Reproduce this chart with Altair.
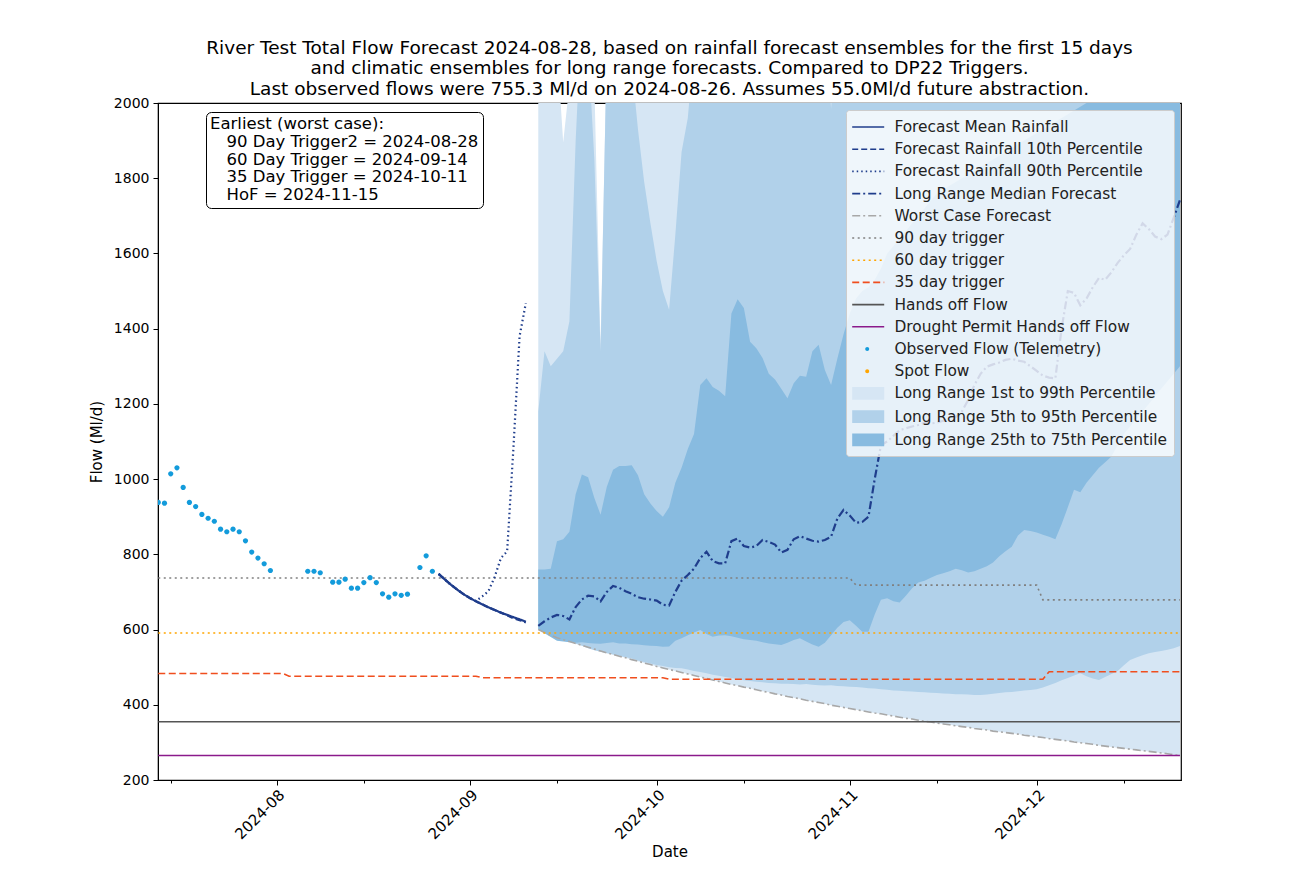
import altair as alt
import pandas as pd

# ---------------- text ----------------
TITLE_LINES = [
    "River Test Total Flow Forecast 2024-08-28, based on rainfall forecast ensembles for the first 15 days",
    "and climatic ensembles for long range forecasts. Compared to DP22 Triggers.",
    "Last observed flows were 755.3 Ml/d on 2024-08-26. Assumes 55.0Ml/d future abstraction.",
]
NOTE_TITLE = "Earliest (worst case):"
NOTES = ["90 Day Trigger2 = 2024-08-28", "60 Day Trigger = 2024-09-14",
         "35 Day Trigger = 2024-10-11", "HoF = 2024-11-15"]

SERIES = [
    "Forecast Mean Rainfall", "Forecast Rainfall 10th Percentile", "Forecast Rainfall 90th Percentile",
    "Long Range Median Forecast", "Worst Case Forecast", "90 day trigger", "60 day trigger",
    "35 day trigger", "Hands off Flow", "Drought Permit Hands off Flow",
    "Observed Flow (Telemetry)", "Spot Flow",
    "Long Range 1st to 99th Percentile", "Long Range 5th to 95th Percentile",
    "Long Range 25th to 75th Percentile",
]
T = "transparent"
STROKES = ["#1f3d8c", "#1f3d8c", "#1f3d8c", "#1f3d8c", "#a8a8a8", "#808080", "#ffa500",
           "#f04e1e", "#555555", "#8b1a8b", T, T, T, T, T]
FILLS = [T] * 10 + ["#139bdb", "#ffa500", "#d6e6f4", "#b1d1ea", "#88bbe0"]
DASHES = [[1, 0], [6, 3], [1.5, 3], [8, 3, 2, 3], [8, 3, 2, 3], [2, 3.5], [2, 3.5],
          [7, 3.5], [1, 0], [1, 0], [1, 0], [1, 0], [1, 0], [1, 0], [1, 0]]
LINE_SYM = "M-1.08,0H2.12"
DOT_SYM = "M0.22,0A0.2,0.2,0,1,1,0.62,0A0.2,0.2,0,1,1,0.22,0Z"
RECT_SYM = "M-1.08,-0.64H2.12V0.64H-1.08Z"
SHAPES = [LINE_SYM] * 10 + [DOT_SYM] * 2 + [RECT_SYM] * 3

# ---------------- observed flow ----------------
OBS_DATES = ["2024-07-13", "2024-07-14", "2024-07-15", "2024-07-16", "2024-07-17", "2024-07-18",
             "2024-07-19", "2024-07-20", "2024-07-21", "2024-07-22", "2024-07-23", "2024-07-24",
             "2024-07-25", "2024-07-26", "2024-07-27", "2024-07-28", "2024-07-29", "2024-07-30",
             "2024-07-31", "2024-08-06", "2024-08-07", "2024-08-08", "2024-08-10", "2024-08-11",
             "2024-08-12", "2024-08-13", "2024-08-14", "2024-08-15", "2024-08-16", "2024-08-17",
             "2024-08-18", "2024-08-19", "2024-08-20", "2024-08-21", "2024-08-22", "2024-08-24",
             "2024-08-25", "2024-08-26"]
OBS_VALUES = [938, 936, 1014, 1030, 978, 938, 927, 906, 896, 888, 867, 860, 867, 860, 836, 806,
              790, 775, 757, 755, 755, 751, 726, 726, 734, 710, 710, 725, 738, 725, 695, 686,
              695, 691, 694, 765, 796, 755]

# ---------------- 15 day rainfall forecast (2024-08-27 .. 2024-09-10) ----------------
FC_START, FC_DAYS = "2024-08-27", 15
FC_MEAN = [748, 733, 719, 706, 694, 684, 675, 667, 659, 652, 645, 639, 633, 627, 621]
FC_P10 = [748, 733, 719, 706, 694, 684, 675, 667, 659, 652, 645, 638, 630, 625, 619]
FC_P90 = [748, 733, 719, 706, 694, 684, 676, 688, 702, 740, 790, 808, 1080, 1380, 1468]

# ---------------- long range (2024-09-12 .. 2024-12-24) ----------------
LR_START, LR_DAYS = "2024-09-12", 104
LR_MEDIAN = [610, 622, 632, 639, 636, 627, 660, 680, 690, 688,
             675, 700, 716, 711, 702, 695, 686, 682, 680, 677,
             666, 664, 700, 730, 745, 762, 790, 807, 782, 776,
             776, 835, 842, 822, 818, 822, 838, 833, 826, 805,
             812, 840, 848, 842, 836, 834, 838, 847, 895, 918,
             903, 884, 886, 900, 1000, 1090, 1100, 1115, 1130, 1135,
             1140, 1144, 1150, 1148, 1150, 1155, 1157, 1165, 1180, 1210,
             1250, 1280, 1299, 1305, 1310, 1317, 1320, 1315, 1312, 1300,
             1288, 1275, 1270, 1268, 1400, 1500, 1495, 1462, 1480, 1510,
             1535, 1530, 1550, 1575, 1595, 1612, 1650, 1680, 1665, 1645,
             1638, 1650, 1695, 1742]
WORST = [600, 592, 585, 578, 573, 568, 563, 558, 553, 548,
         543, 538, 534, 529, 525, 520, 516, 511, 507, 502,
         498, 494, 490, 486, 482, 478, 474, 470, 466, 462,
         458, 454, 451, 447, 444, 440, 436, 433, 429, 426,
         422, 419, 416, 412, 409, 406, 403, 399, 396, 393,
         390, 387, 384, 381, 378, 376, 373, 370, 367, 364,
         362, 359, 356, 354, 351, 349, 347, 344, 342, 340,
         337, 335, 333, 330, 328, 326, 324, 322, 319, 317,
         315, 313, 310, 308, 306, 304, 301, 299, 297, 295,
         292, 290, 288, 286, 284, 282, 280, 278, 276, 274,
         272, 270, 267, 265]
P01 = WORST
P05 = [600, 592, 585, 580, 575, 568, 562, 557, 550, 545,
       541, 537, 534, 530, 527, 523, 518, 514, 510, 506,
       503, 500, 498, 497, 494, 490, 487, 484, 480, 477,
       474, 471, 468, 465, 463, 461, 460, 458, 457, 456,
       456, 455, 454, 455, 453, 452, 451, 452, 450, 449,
       448, 447, 446, 444, 443, 441, 440, 438, 437, 436,
       435, 434, 433, 432, 431, 430, 429, 428, 428, 427,
       426, 426, 427, 429, 431, 433, 434, 436, 438, 439,
       441, 446, 452, 458, 465, 471, 478, 484, 476, 470,
       466, 474, 482, 490, 505, 519, 526, 532, 537, 540,
       543, 546, 550, 556]
P25 = [600, 590, 580, 570, 568, 566, 565, 566, 564, 563,
       562, 564, 566, 563, 563, 561, 560, 558, 557, 556,
       554, 555, 570, 577, 585, 592, 599, 588, 581, 584,
       585, 582, 578, 574, 572, 570, 566, 563, 561, 559,
       565, 572, 577, 568, 560, 554, 565, 585, 605, 620,
       625, 610, 594, 594, 640, 679, 683, 675, 672, 690,
       710, 725, 730, 738, 745, 750, 755, 762, 758, 752,
       755, 762, 768, 778, 795, 808, 820, 850, 865, 862,
       858, 852, 847, 840, 880, 925, 972, 965, 990, 1010,
       1030, 1045, 1060, 1090, 1120, 1140, 1160, 1180, 1200, 1220,
       1240, 1260, 1280, 1300]
P75 = [760, 760, 762, 835, 840, 860, 960, 1012, 1005, 950,
       905, 980, 1025, 1035, 1035, 1037, 1010, 960, 935, 915,
       900, 925, 990, 1030, 1080, 1120, 1250, 1268, 1245, 1235,
       1220, 1440, 1478, 1455, 1365, 1348, 1322, 1280, 1265, 1240,
       1215, 1255, 1275, 1272, 1340, 1357, 1290, 1250, 1320, 1385,
       1440, 1480, 1500, 1510, 1530, 1560, 1600, 1620, 1640, 1660,
       1680, 1700, 1720, 1740, 1760, 1770, 1780, 1790, 1800, 1810,
       1820, 1830, 1840, 1850, 1860, 1870, 1880, 1890, 1900, 1910,
       1920, 1930, 1940, 1950, 1960, 1970, 1980, 1990, 2000, 2010,
       2020, 2030, 2040, 2050, 2060, 2070, 2080, 2090, 2100, 2100,
       2100, 2100, 2100, 2100]
P95 = [1180, 1340, 1300, 1320, 1340, 1420, 1900, 2250, 2150, 1850,
       1340, 2150, 2250, 2250, 2250, 2100, 1930, 1790, 1680, 1580,
       1500, 1450, 1650, 1870, 1960, 2150, 2250, 2250, 2250, 2250,
       2250, 2250, 2250, 2250, 2250, 2250, 2250, 2250, 2250, 2250,
       2250, 2250, 2250, 2250, 2250, 2250, 2250, 1985, 2250, 2250,
       2250, 2250, 2250, 2250, 2250, 2250, 2250, 2250, 2250, 2250,
       2250, 2250, 2250, 2250, 2250, 2250, 2250, 2250, 2250, 2250,
       2250, 2250, 2250, 2250, 2250, 2250, 2250, 2250, 2250, 2250,
       2250, 2250, 2250, 2250, 2250, 2250, 2250, 2250, 2250, 2250,
       2250, 2250, 2250, 2250, 2250, 2250, 2250, 2250, 2250, 2250,
       2250, 2250, 2250, 2250]
P99 = [2300, 2300, 2300, 2150, 1895, 2050, 2300, 2300, 2300, 2050,
       1357, 2150, 2300, 2300, 2300, 2300, 2300, 2300, 2300, 2300,
       2300, 2300, 2300, 2300, 2300, 2300, 2300, 2300, 2300, 2300,
       2300, 2300, 2300, 2300, 2300, 2300, 2300, 2300, 2300, 2300,
       2300, 2300, 2300, 2300, 2300, 2300, 2300, 2300, 2300, 2300,
       2300, 2300, 2300, 2300, 2300, 2300, 2300, 2300, 2300, 2300,
       2300, 2300, 2300, 2300, 2300, 2300, 2300, 2300, 2300, 2300,
       2300, 2300, 2300, 2300, 2300, 2300, 2300, 2300, 2300, 2300,
       2300, 2300, 2300, 2300, 2300, 2300, 2300, 2300, 2300, 2300,
       2300, 2300, 2300, 2300, 2300, 2300, 2300, 2300, 2300, 2300,
       2300, 2300, 2300, 2300]

# ---------------- triggers / flow constraints ----------------
T90_DATES = ["2024-07-13", "2024-11-01", "2024-11-02", "2024-12-01", "2024-12-02", "2024-12-24"]
T90_VALUES = [737, 737, 718, 718, 679, 679]
T60_DATES = ["2024-07-13", "2024-12-24"]
T60_VALUES = [591, 591]
T35_DATES = ["2024-07-13", "2024-08-02", "2024-08-03", "2024-09-02", "2024-09-03",
             "2024-10-02", "2024-10-03", "2024-12-02", "2024-12-03", "2024-12-24"]
T35_VALUES = [483, 483, 476, 476, 472, 472, 468, 468, 488, 488]
HOF_DATES = ["2024-07-13", "2024-12-24"]
HOF_VALUES = [355, 355]
DP_DATES = ["2024-07-13", "2024-12-24"]
DP_VALUES = [265, 265]


def iso(dates):
    return [pd.Timestamp(d).strftime("%Y-%m-%dT%H:%M:%S") for d in dates]


fc_dates = iso(pd.date_range(FC_START, periods=FC_DAYS, freq="D"))
lr_dates = iso(pd.date_range(LR_START, periods=LR_DAYS, freq="D"))


def line_rows(name, dates, values):
    return pd.DataFrame({"series": name, "date": dates, "value": values})


fc_lines = pd.concat([
    line_rows(SERIES[0], fc_dates, FC_MEAN),
    line_rows(SERIES[1], fc_dates, FC_P10),
    line_rows(SERIES[2], fc_dates, FC_P90),
    line_rows(SERIES[3], lr_dates, LR_MEDIAN),
])
other_lines = pd.concat([
    line_rows(SERIES[4], lr_dates, WORST),
    line_rows(SERIES[5], iso(T90_DATES), T90_VALUES),
    line_rows(SERIES[6], iso(T60_DATES), T60_VALUES),
    line_rows(SERIES[7], iso(T35_DATES), T35_VALUES),
    line_rows(SERIES[8], iso(HOF_DATES), HOF_VALUES),
    line_rows(SERIES[9], iso(DP_DATES), DP_VALUES),
])
obs = pd.DataFrame({"series": SERIES[10], "date": iso(OBS_DATES), "value": OBS_VALUES})
bands = [
    pd.DataFrame({"series": SERIES[12], "date": lr_dates, "lo": P01, "hi": P99}),
    pd.DataFrame({"series": SERIES[13], "date": lr_dates, "lo": P05, "hi": P95}),
    pd.DataFrame({"series": SERIES[14], "date": lr_dates, "lo": P25, "hi": P75}),
]
notes_df = pd.DataFrame({"note": NOTES})

# ---------------- scales / axes / legends ----------------
FONT = "DejaVu Sans"
x_scale = alt.Scale(domain=[alt.DateTime(year=2024, month=7, date=12, hours=23),
                            alt.DateTime(year=2024, month=12, date=24, hours=4)], nice=False)
y_scale = alt.Scale(domain=[200, 2000], nice=False, zero=False)

tick_dates = []
for m in [7, 8, 9, 10, 11, 12]:
    if m != 7:
        tick_dates.append(alt.DateTime(year=2024, month=m, date=1))
    tick_dates.append(alt.DateTime(year=2024, month=m, date=15))

x_axis = alt.Axis(
    title="Date", values=tick_dates, grid=False,
    labelExpr="date(datum.value) == 1 ? timeFormat(datum.value, '%Y-%m') : ''",
    tickSize={"condition": {"test": "date(datum.value) == 1", "value": 5}, "value": 3},
    labelAngle=-45, labelAlign="right", labelBaseline="top", labelFontSize=15,
    labelOverlap=False, labelFlush=False, labelPadding=2, titleFontSize=15,
    titleFontWeight="normal", titlePadding=3, titleColor="black", labelColor="black",
    domainColor="black", tickColor="black",
)
y_axis = alt.Axis(
    title="Flow (Ml/d)", values=list(range(200, 2001, 200)), format="d", grid=False,
    labelFontSize=14, titleFontSize=15, titleFontWeight="normal", tickSize=5,
    labelPadding=4, titlePadding=9, titleColor="black", labelColor="black",
    domainColor="black", tickColor="black",
)

LEG = alt.Legend(
    title=None, orient="top-right", offset=7, fillColor="rgba(255,255,255,0.8)",
    strokeColor="#cccccc", cornerRadius=3, padding=6, labelFontSize=15.4, labelFont=FONT,
    labelColor="#222222", labelLimit=500, symbolSize=400, symbolStrokeWidth=1.6,
    rowPadding=2.2, labelOffset=20.4,
)

X = alt.X("date:T", scale=x_scale, axis=x_axis)
fill_enc = alt.Fill("series:N", scale=alt.Scale(domain=SERIES, range=FILLS), legend=LEG)
stroke_enc = alt.Stroke("series:N", scale=alt.Scale(domain=SERIES, range=STROKES), legend=LEG)
dash_enc = alt.StrokeDash("series:N", scale=alt.Scale(domain=SERIES, range=DASHES), legend=LEG)
shape_enc = alt.Shape("series:N", scale=alt.Scale(domain=SERIES, range=SHAPES), legend=LEG)

layers = []
for b in bands:
    layers.append(
        alt.Chart(b).mark_area(clip=True, opacity=1).encode(
            x=X, y=alt.Y("lo:Q", scale=y_scale, axis=y_axis), y2="hi:Q", fill=fill_enc
        )
    )
layers.append(
    alt.Chart(other_lines).mark_line(clip=True, strokeWidth=1.6).encode(
        x=X, y=alt.Y("value:Q", scale=y_scale, axis=y_axis), stroke=stroke_enc, strokeDash=dash_enc
    )
)
layers.append(
    alt.Chart(fc_lines).mark_line(clip=True, strokeWidth=2.2).encode(
        x=X, y=alt.Y("value:Q", scale=y_scale, axis=y_axis), stroke=stroke_enc, strokeDash=dash_enc
    )
)
# dot symbol path is centred at +0.42 units (for the legend); xOffset re-centres it on the data
layers.append(
    alt.Chart(obs).mark_point(filled=True, size=676, opacity=1, clip=True, xOffset=-5.46).encode(
        x=X, y=alt.Y("value:Q", scale=y_scale, axis=y_axis), fill=fill_enc, shape=shape_enc
    )
)
layers.append(
    alt.Chart(notes_df).mark_point(opacity=0).encode(
        color=alt.Color(
            "note:N", scale=alt.Scale(domain=NOTES, range=["white"] * len(NOTES)),
            legend=alt.Legend(
                title=NOTE_TITLE, orient="none", legendX=48, legendY=9, titleFontSize=16.5,
                titleFont=FONT, titleFontWeight="normal", titleColor="black", labelFontSize=16.5,
                labelFont=FONT, labelColor="black", fillColor="white", strokeColor="black",
                cornerRadius=5, padding=4, rowPadding=0.8, titlePadding=1, labelOffset=0,
                symbolSize=1, symbolStrokeWidth=0, symbolOpacity=0,
                labelLimit=500, titleLimit=500,
            ),
        )
    )
)

chart = (
    alt.layer(*layers)
    .properties(
        width=1023, height=677,
        autosize=alt.AutoSizeParams(type="none"),
        padding={"left": 150, "top": 95, "right": 95, "bottom": 82},
        title=alt.TitleParams(text=TITLE_LINES, fontSize=18.5, font=FONT, fontWeight="normal",
                              color="black", anchor="middle", offset=-2, lineHeight=20.5),
    )
    .configure(font=FONT)
    .configure_view(stroke="black", strokeWidth=1.2)
)

chart.save("out.html", embed_options={"renderer": "svg", "actions": False})
